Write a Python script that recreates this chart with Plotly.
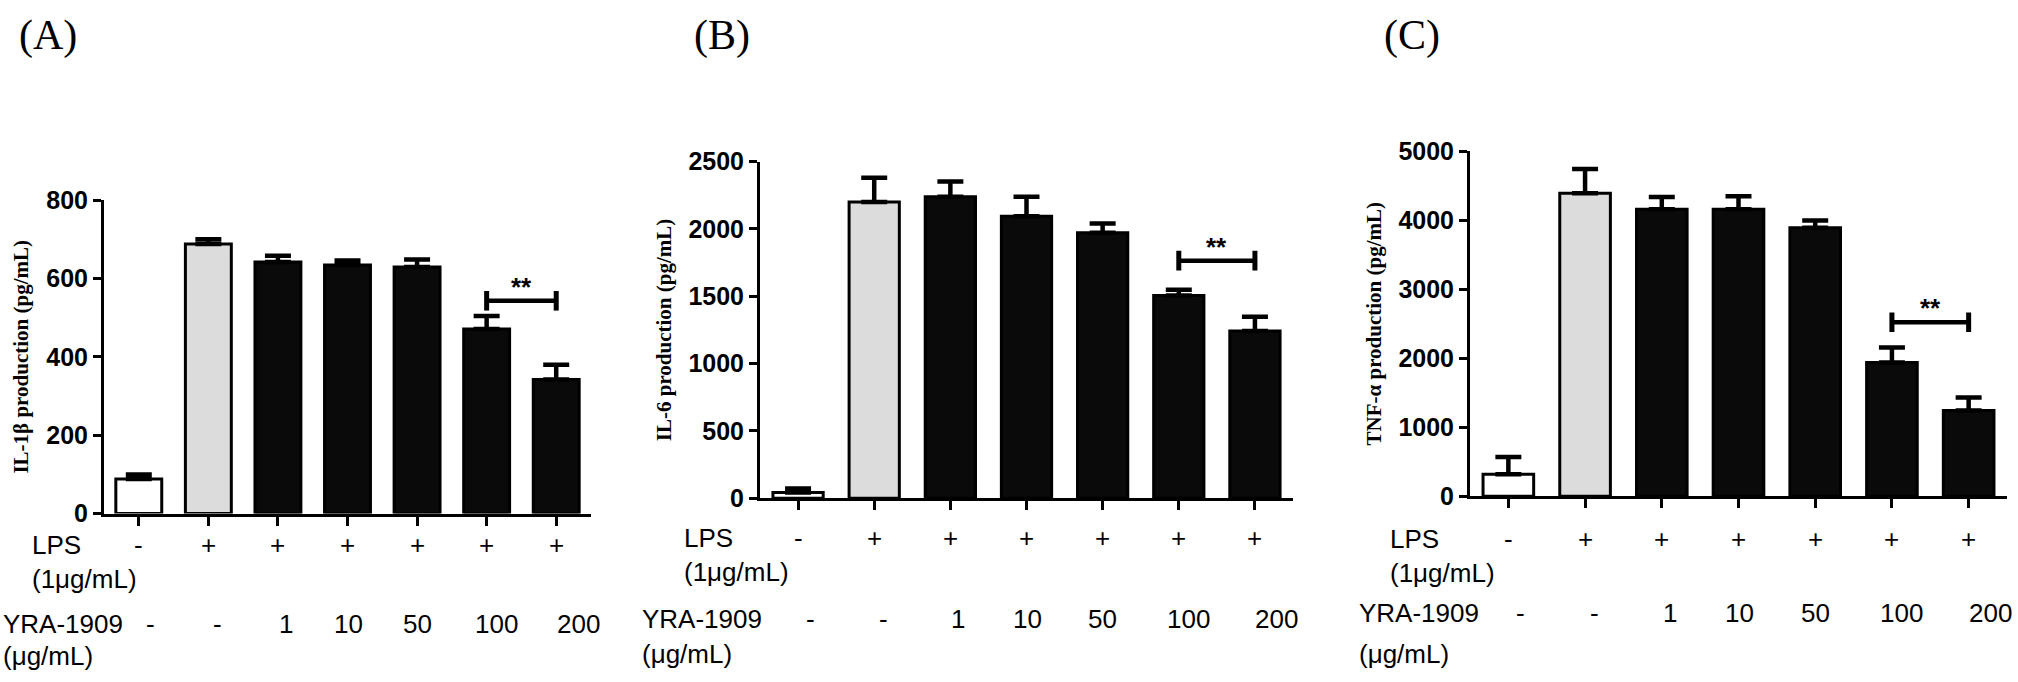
import plotly.graph_objects as go

# Groups (x categories) and their treatment labels
lps_labels = ["-", "+", "+", "+", "+", "+", "+"]
yra_labels = ["-", "-", "1", "10", "50", "100", "200"]
bar_colors = ["#ffffff", "#dcdcdc", "#0a0a0a", "#0a0a0a", "#0a0a0a", "#0a0a0a", "#0a0a0a"]

# Panel A: IL-1beta (pg/mL)
il1b_mean = [88, 688, 642, 634, 629, 471, 342]
il1b_sem = [12, 12, 16, 12, 19, 33, 38]
# Panel B: IL-6 (pg/mL)
il6_mean = [43, 2200, 2240, 2094, 1973, 1506, 1243]
il6_sem = [30, 180, 113, 146, 67, 42, 105]
# Panel C: TNF-alpha (pg/mL)
tnf_mean = [320, 4390, 4160, 4160, 3890, 1940, 1245]
tnf_sem = [250, 350, 175, 185, 105, 215, 185]

# significance bracket (100 vs 200 ug/mL) height in data units
sig_levels = [543, 1765, 2522]
sig_pair = [5, 6]

W, H = 2018, 682


def px(x):
    return x / W


def py(y):
    return 1 - y / H


panels = [
    dict(mean=il1b_mean, sem=il1b_sem, ymax=800, dtick=200, letter="(A)",
         title="IL-1β production (pg/mL)",
         xdom=(104, 591), ydom=(521, 194), letter_x=48,
         rows=(554, 589, 636, 670), lps_dx=-74, yra_dx=-103),
    dict(mean=il6_mean, sem=il6_sem, ymax=2500, dtick=500, letter="(B)",
         title="IL-6 production (pg/mL)",
         xdom=(760, 1293), ydom=(505, 154), letter_x=722,
         rows=(546, 582, 631, 667), lps_dx=-78, yra_dx=-120),
    dict(mean=tnf_mean, sem=tnf_sem, ymax=5000, dtick=1000, letter="(C)",
         title="TNF-α production (pg/mL)",
         xdom=(1470, 2007), ydom=(503, 143), letter_x=1412,
         rows=(547, 583, 625, 667), lps_dx=-82, yra_dx=-113),
]

yra_shift = [12, 9, 8, 1, 0, 10, 22]
row_font = dict(family="Liberation Sans, Arial", size=26, color="black")
tick_font = dict(family="Liberation Sans Narrow, Arial Narrow, Liberation Sans", size=25,
                 color="black", weight="bold")
title_font = dict(family="Liberation Serif, Times New Roman", size=21, color="black",
                  weight="bold")

fig = go.Figure()
annotations = []
xs = list(range(len(lps_labels)))

for i, p in enumerate(panels):
    n = "" if i == 0 else str(i + 1)
    xa, ya = "x" + n, "y" + n

    fig.add_trace(go.Bar(
        x=xs, y=p["mean"], width=0.66, xaxis=xa, yaxis=ya,
        marker=dict(color=bar_colors, line=dict(color="black", width=3)),
        error_y=dict(type="data", array=p["sem"], arrayminus=[0] * len(xs),
                     symmetric=False, color="black", thickness=4.5, width=13),
        showlegend=False,
    ))

    # significance bracket
    lvl = sig_levels[i]
    fig.add_trace(go.Scatter(
        x=sig_pair, y=[lvl, lvl], xaxis=xa, yaxis=ya, mode="lines+markers",
        line=dict(color="black", width=4.5),
        marker=dict(symbol="line-ns", size=14, line=dict(color="black", width=5)),
        showlegend=False, hoverinfo="skip",
    ))
    annotations.append(dict(x=sum(sig_pair) / 2, y=lvl, xref=xa, yref=ya, text="**",
                            showarrow=False, yanchor="middle", yshift=14,
                            font=dict(family="Liberation Sans, Arial", size=26,
                                      color="black", weight="bold")))

    dom_x = [px(p["xdom"][0]), px(p["xdom"][1])]
    dom_y = [py(p["ydom"][0]), py(p["ydom"][1])]
    axis_common = dict(showline=True, linecolor="black", linewidth=3, ticks="outside",
                       tickwidth=3, tickcolor="black", showgrid=False, zeroline=False,
                       fixedrange=True)
    fig.update_layout(**{
        ("xaxis" + n): dict(domain=dom_x, anchor=ya, range=[-0.5, 6.5], tickvals=xs,
                            showticklabels=False, ticklen=9, **axis_common),
        ("yaxis" + n): dict(domain=dom_y, anchor=xa, range=[0, p["ymax"]],
                            tick0=0, dtick=p["dtick"], ticklen=8, tickfont=tick_font,
                            title=dict(text=p["title"], font=title_font, standoff=12),
                            **axis_common),
    })

    # panel letter
    annotations.append(dict(x=px(p["letter_x"]), y=py(22), xref="paper", yref="paper",
                            text=p["letter"], showarrow=False, xanchor="center",
                            yanchor="middle",
                            font=dict(family="Liberation Serif, Times New Roman",
                                      size=42, color="black")))

    r_lps, r_lps2, r_yra, r_yra2 = p["rows"]
    dom_ref = xa + " domain"
    for txt, yy, dx in [("LPS", r_lps, p["lps_dx"]), ("(1μg/mL)", r_lps2, p["lps_dx"]),
                        ("YRA-1909", r_yra, p["yra_dx"]), ("(μg/mL)", r_yra2, p["yra_dx"])]:
        annotations.append(dict(x=0, y=py(yy), xref=dom_ref, yref="paper", text=txt,
                                showarrow=False, xanchor="left", yanchor="middle",
                                xshift=dx, font=row_font))
    for k in xs:
        annotations.append(dict(x=k, y=py(r_lps), xref=xa, yref="paper",
                                text=lps_labels[k], showarrow=False, xanchor="center",
                                yanchor="middle", font=row_font))
        annotations.append(dict(x=k, y=py(r_yra), xref=xa, yref="paper",
                                text=yra_labels[k], showarrow=False, xanchor="center",
                                yanchor="middle", xshift=yra_shift[k], font=row_font))

fig.update_layout(
    width=W, height=H,
    margin=dict(l=0, r=0, t=0, b=0),
    paper_bgcolor="white", plot_bgcolor="white",
    annotations=annotations,
    bargap=0.3,
)

# drop the default page margin so the figure fills the window exactly
fig.write_html("out.html", config={"displayModeBar": False},
               post_script="document.body.style.margin='0';"
                           "document.body.style.overflow='hidden';")
